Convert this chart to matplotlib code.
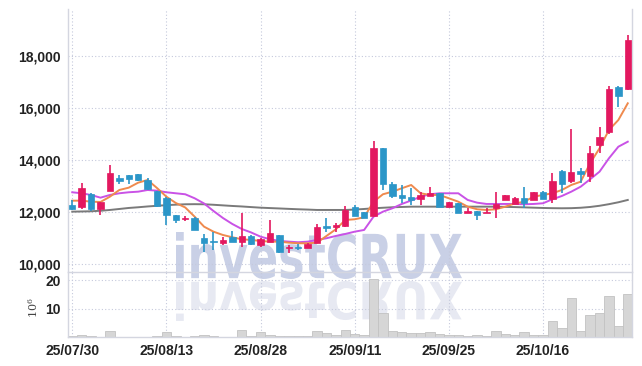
#!/usr/bin/env python
# -*- coding: utf-8 -*-
"""日线 K 线 + 均线 + 成交量 (investCRUX 风格)"""

import matplotlib
matplotlib.use("Agg")
import matplotlib.pyplot as plt
from matplotlib.font_manager import FontProperties
from matplotlib.patches import PathPatch
from matplotlib.textpath import TextPath
from matplotlib.transforms import Affine2D, IdentityTransform


# 交易日
DATES = [
    "25/07/30", "25/07/31", "25/08/01", "25/08/04", "25/08/05", "25/08/06", "25/08/07", "25/08/08",
    "25/08/11", "25/08/12", "25/08/13", "25/08/14", "25/08/18", "25/08/19", "25/08/20", "25/08/21",
    "25/08/22", "25/08/25", "25/08/26", "25/08/27", "25/08/28", "25/08/29", "25/09/01", "25/09/02",
    "25/09/03", "25/09/04", "25/09/05", "25/09/08", "25/09/09", "25/09/10", "25/09/11", "25/09/12",
    "25/09/15", "25/09/16", "25/09/17", "25/09/18", "25/09/19", "25/09/22", "25/09/23", "25/09/24",
    "25/09/25", "25/09/26", "25/09/29", "25/09/30", "25/10/01", "25/10/02", "25/10/10", "25/10/13",
    "25/10/14", "25/10/15", "25/10/16", "25/10/17", "25/10/20", "25/10/21", "25/10/22", "25/10/23",
    "25/10/24", "25/10/27", "25/10/28", "25/10/29",
]
TICK_DATES = ["25/07/30", "25/08/13", "25/08/28", "25/09/11", "25/09/25", "25/10/16"]

OPEN = [12270, 12190, 12690, 12120, 12810, 13310, 13420, 13460, 13230, 12810,
        12540, 11880, 11720, 11770, 11000, 10870, 10810, 11040, 10850, 11080,
        10730, 10850, 11120, 10600, 10630, 10620, 10810, 11460, 11420, 11460,
        12190, 12000, 11850, 14460, 13080, 12650, 12580, 12500, 12620, 12730,
        12190, 12350, 11960, 12040, 11960, 12150, 12460, 12310, 12540, 12460,
        12770, 12500, 13580, 13190, 13580, 13380, 14580, 15080, 16810, 16730]
HIGH = [12450, 13110, 12730, 12390, 13810, 13420, 13440, 13470, 13310, 12810,
        12560, 11900, 11850, 11800, 11150, 11230, 11040, 11270, 11960, 11100,
        10980, 11690, 11130, 10730, 10770, 10800, 11540, 11770, 11580, 12230,
        12270, 12010, 14730, 14470, 13150, 13040, 12920, 12770, 12960, 12740,
        12390, 12360, 12150, 12050, 12150, 12770, 12660, 12560, 12960, 12780,
        12790, 13500, 13610, 15190, 13690, 14540, 15270, 16850, 16850, 18810]
LOW = [12080, 12110, 12040, 11880, 12790, 13080, 13080, 13200, 12860, 12200,
       11500, 11580, 11650, 11290, 10460, 10540, 10730, 10840, 10650, 10730,
       10650, 10840, 10440, 10420, 10540, 10600, 10800, 11230, 11230, 11440,
       11840, 11760, 11840, 12850, 12540, 12350, 12270, 12270, 12610, 12180,
       12180, 11950, 11950, 11690, 11950, 11770, 12450, 12300, 12150, 12450,
       12490, 12350, 12730, 13120, 13120, 13150, 14270, 15000, 16040, 16700]
CLOSE = [12120, 12920, 12120, 12380, 13500, 13190, 13270, 13230, 12880, 12230,
         11880, 11690, 11740, 11310, 10810, 10850, 10920, 10850, 11080, 10770,
         10960, 11190, 10460, 10620, 10610, 10770, 11420, 11380, 11500, 12080,
         11850, 11770, 14460, 13080, 12620, 12540, 12460, 12650, 12730, 12190,
         12380, 11960, 12040, 11880, 12000, 12310, 12650, 12540, 12350, 12770,
         12500, 13190, 13080, 13540, 13460, 14270, 14880, 16730, 16460, 18620]

# 均线
MA5 = [12435, 12435, 12396, 12385, 12588, 12846, 12935, 13127, 13231, 12923,
       12588, 12346, 12173, 11819, 11435, 11242, 11115, 11027, 10950, 10923,
       10885, 10858, 10858, 10819, 10796, 10796, 10819, 11077, 11335, 11692,
       11719, 11796, 12396, 12681, 12781, 12912, 13038, 12719, 12654, 12654,
       12527, 12396, 12204, 12104, 12077, 12104, 12204, 12327, 12396, 12588,
       12654, 12719, 12846, 13038, 13165, 13873, 14450, 15154, 15538, 16181]
MA10 = [12758, 12719, 12654, 12550, 12654, 12719, 12758, 12781, 12846, 12819,
        12758, 12719, 12681, 12527, 12327, 12038, 11769, 11538, 11346, 11212,
        11050, 10950, 10885, 10858, 10835, 10858, 10923, 10989, 11077, 11154,
        11242, 11308, 11819, 12012, 12142, 12308, 12442, 12588, 12681, 12719,
        12719, 12719, 12462, 12358, 12308, 12308, 12308, 12308, 12296, 12308,
        12335, 12488, 12615, 12781, 12973, 13258, 13550, 14065, 14511, 14704]
MA_LONG = [12012, 12019, 12027, 12046, 12077, 12115, 12154, 12181, 12212, 12238,
           12262, 12281, 12296, 12300, 12296, 12277, 12254, 12231, 12212, 12188,
           12165, 12150, 12135, 12119, 12104, 12092, 12077, 12077, 12077, 12077,
           12092, 12115, 12142, 12162, 12181, 12192, 12204, 12204, 12204, 12204,
           12204, 12204, 12204, 12204, 12204, 12204, 12196, 12188, 12177, 12165,
           12154, 12146, 12142, 12146, 12162, 12192, 12238, 12300, 12373, 12462]

# 成交量 (单位 10^6)
VOLUME = [0.2, 0.8, 0.5, 0.15, 2.2, 0.1, 0.1, 0.1, 0.1, 0.5,
          1.9, 0.5, 0.15, 0.5, 0.8, 0.5, 0.15, 0.15, 2.6, 0.5,
          1.9, 0.8, 0.2, 0.2, 0.2, 0.3, 2.2, 1.3, 0.7, 2.4,
          1.2, 0.7, 20.6, 8.4, 2.2, 1.7, 1.5, 1.5, 1.7, 1.2,
          0.7, 0.7, 0.35, 0.7, 0.35, 2.1, 1.2, 0.7, 1.7, 0.7,
          0.7, 5.6, 3.1, 13.9, 2.2, 7.7, 8.4, 14.4, 3.8, 15.1]

PRICE_TICKS = [10000, 12000, 14000, 16000, 18000]
VOL_TICKS = [10, 20]

UP_COLOR = "#e3185f"
DOWN_COLOR = "#2b96c8"
GRID_COLOR = "#c5c9dc"
SPINE_COLOR = "#d4d6e0"
LABEL_FONT = FontProperties(family=["Liberation Sans", "DejaVu Sans"], weight="bold", size=10)


def _style_axis(ax):
    for side in ("left", "right", "bottom"):
        ax.spines[side].set_color(SPINE_COLOR)
        ax.spines[side].set_linewidth(1.0)
    ax.spines["top"].set_visible(False)
    ax.set_facecolor("none")
    ax.grid(True, linestyle=(0, (1, 2)), color=GRID_COLOR, linewidth=0.8)
    ax.set_axisbelow(True)
    ax.tick_params(length=0, pad=5, labelcolor="#222222")
    for lbl in ax.get_xticklabels() + ax.get_yticklabels():
        lbl.set_fontproperties(LABEL_FONT)


def _add_watermark(fig):
    fp = FontProperties(family="DejaVu Sans", weight="bold")
    tp = TextPath((0, 0), "investCRUX", size=100, prop=fp)
    ext = tp.get_extents()
    # 像素坐标 (dpi=100, y 轴向上)
    x0, x1 = 176, 462
    top, base = 366 - 232, 366 - 279
    sx = (x1 - x0) / ext.width
    sy = (top - base) / ext.height
    main_tr = Affine2D().translate(-ext.x0, -ext.y0).scale(sx, sy).translate(x0, base)
    refl_tr = Affine2D().translate(-ext.x0, -ext.y0).scale(sx, -sy * 0.85).translate(x0, base - 2)
    fig.add_artist(PathPatch(main_tr.transform_path(tp), facecolor="#c9d0e6", edgecolor="none",
                             transform=IdentityTransform(), zorder=-1))
    fig.add_artist(PathPatch(refl_tr.transform_path(tp), facecolor="#e7e9f2", edgecolor="none",
                             transform=IdentityTransform(), zorder=-1))


def main():
    plt.rcParams["mathtext.fontset"] = "dejavuserif"
    fig = plt.figure(figsize=(6.42, 3.66), dpi=100, facecolor="white")
    _add_watermark(fig)

    ax = fig.add_axes([68 / 642, 1 - 272 / 366, 564 / 642, 263 / 366])
    ax_vol = fig.add_axes([68 / 642, 1 - 337 / 366, 564 / 642, 65 / 366], sharex=ax)

    xs = list(range(len(DATES)))

    # 均线
    ax.plot(xs, MA_LONG, color="#7a7a7a", linewidth=1.4, zorder=2)
    ax.plot(xs, MA10, color="#c952e6", linewidth=1.4, zorder=2)
    ax.plot(xs, MA5, color="#ef8a4e", linewidth=1.4, zorder=2)

    # K 线
    colors = [UP_COLOR if c >= o else DOWN_COLOR for o, c in zip(OPEN, CLOSE)]
    bottoms = [min(o, c) for o, c in zip(OPEN, CLOSE)]
    heights = [max(abs(c - o), 40) for o, c in zip(OPEN, CLOSE)]
    ax.vlines(xs, LOW, HIGH, colors=colors, linewidth=1.2, zorder=3)
    ax.bar(xs, heights, bottom=bottoms, width=0.68, color=colors, edgecolor=colors,
           linewidth=0.5, zorder=4)

    ax.set_xlim(-0.45, len(DATES) - 0.55)
    ax.set_ylim(9690, 19810)
    ax.set_yticks(PRICE_TICKS)
    ax.set_yticklabels([f"{v:,}" for v in PRICE_TICKS])
    tick_pos = [DATES.index(d) for d in TICK_DATES]
    ax.set_xticks(tick_pos)
    ax.tick_params(axis="x", labelbottom=False)
    _style_axis(ax)

    # 成交量
    ax_vol.bar(xs, VOLUME, width=1.0, color="#d6d6d6", edgecolor="#c2c2c2", linewidth=0.6, zorder=2)
    ax_vol.set_ylim(0, 23)
    ax_vol.set_yticks(VOL_TICKS)
    ax_vol.set_yticklabels([str(v) for v in VOL_TICKS])
    ax_vol.set_xticks(tick_pos)
    ax_vol.set_xticklabels(TICK_DATES)
    _style_axis(ax_vol)
    ax_vol.text(-0.062, 0.45, r"$10^6$", transform=ax_vol.transAxes, rotation=90,
                ha="center", va="center", fontsize=8, color="#444444")

    fig.savefig("out.png", dpi=100, facecolor="white")
    plt.close(fig)


if __name__ == "__main__":
    main()
